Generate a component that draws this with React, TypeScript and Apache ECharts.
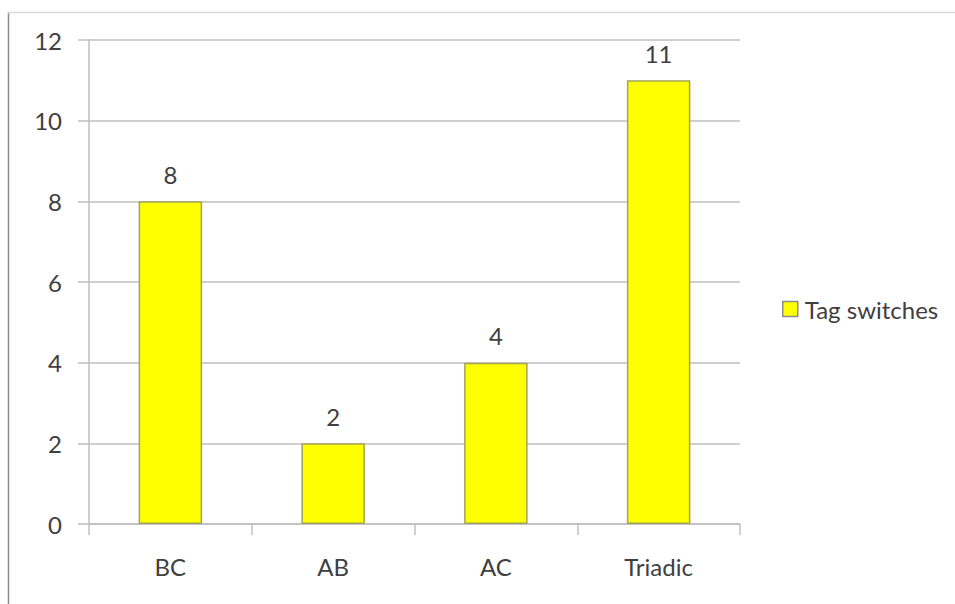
import React, { useEffect, useRef } from "react";
import * as echarts from "echarts";

const categories = ["BC", "AB", "AC", "Triadic"];
const tagSwitches = [8, 2, 4, 11];
const seriesName = "Tag switches";
const yMin = 0;
const yMax = 12;
const yStep = 2;

const FONT = "Lato, 'Liberation Sans', sans-serif";
const SIZE = 24;
const TEXT = "#404040";
const GRID = "#bfbfbf";

export default function App() {
  const ref = useRef<HTMLDivElement>(null);

  useEffect(() => {
    if (!ref.current) return;
    const chart = echarts.init(ref.current, undefined, { renderer: "svg" });
    chart.setOption({
      animation: false,
      backgroundColor: "#ffffff",
      textStyle: { fontFamily: FONT, color: TEXT },
      graphic: [
        {
          type: "line",
          shape: { x1: 8.5, y1: 12, x2: 8.5, y2: 604 },
          style: { stroke: "#8c8c8c", lineWidth: 1.5 },
        },
        {
          type: "line",
          shape: { x1: 8, y1: 12.5, x2: 955, y2: 12.5 },
          style: { stroke: "#d9d9d9", lineWidth: 1.5 },
        },
      ],
      grid: { left: 89, right: 215, top: 40, bottom: 80, containLabel: false },
      legend: {
        data: [seriesName],
        left: 782,
        top: 297,
        padding: 0,
        itemWidth: 15,
        itemHeight: 15,
        icon: "rect",
        itemStyle: { borderColor: "#8c8c8c", borderWidth: 1.5 },
        textStyle: { fontFamily: FONT, fontSize: SIZE, color: TEXT, padding: [0, 0, 0, 2] },
      },
      xAxis: {
        type: "category",
        data: categories,
        axisLine: { lineStyle: { color: GRID, width: 1.5 } },
        axisTick: { show: true, length: 11, lineStyle: { color: GRID, width: 1.5 } },
        axisLabel: { fontFamily: FONT, fontSize: SIZE, color: TEXT, margin: 30 },
      },
      yAxis: {
        type: "value",
        min: yMin,
        max: yMax,
        interval: yStep,
        axisLine: { show: true, lineStyle: { color: GRID, width: 1.5 } },
        axisTick: { show: true, length: 11, lineStyle: { color: GRID, width: 1.5 } },
        splitLine: { lineStyle: { color: GRID, width: 1.5 } },
        axisLabel: { fontFamily: FONT, fontSize: SIZE, color: TEXT, margin: 27 },
      },
      series: [
        {
          name: seriesName,
          type: "bar",
          data: tagSwitches,
          barWidth: "39%",
          itemStyle: { color: "#ffff00", borderColor: "#a3a35a", borderWidth: 1.5 },
          label: {
            show: true,
            position: "top",
            distance: 15,
            fontFamily: FONT,
            fontSize: SIZE,
            color: TEXT,
          },
        },
      ],
    });
    return () => chart.dispose();
  }, []);

  return (
    <div
      ref={ref}
      style={{ position: "absolute", left: 0, top: 0, width: 955, height: 604 }}
    />
  );
}
